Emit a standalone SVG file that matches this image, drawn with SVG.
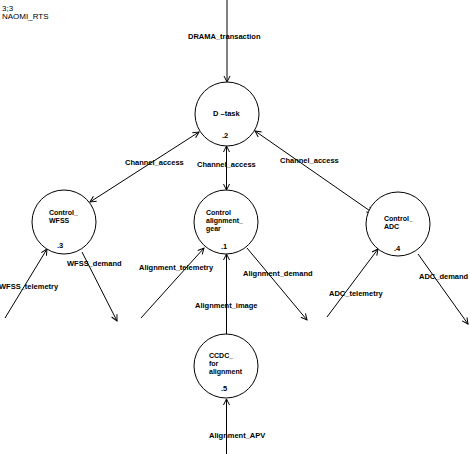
<svg xmlns="http://www.w3.org/2000/svg" width="470" height="454" viewBox="0 0 470 454">
<style>
  .bg{fill:#ffffff}
  .node circle{fill:#ffffff;stroke:#000;stroke-width:1}
  .t{font-family:"Liberation Sans",Arial,sans-serif;font-size:7.5px;font-weight:bold;fill:#000}
  .n{font-family:"Liberation Sans",Arial,sans-serif;font-size:7px;font-weight:bold;fill:#000}
  .h{font-family:"Liberation Sans",Arial,sans-serif;font-size:8px;fill:#000}
  #connectors line{stroke:#000;stroke-width:1;fill:none}
  .a{marker-end:url(#arr)}
  .b{marker-end:url(#arr);marker-start:url(#arr)}
</style>
<defs>
  <marker id="arr" markerUnits="userSpaceOnUse" markerWidth="8" markerHeight="8" refX="6" refY="3" orient="auto-start-reverse" viewBox="-1 -1 8 8">
    <path d="M0,0 L6,3 L0,6" fill="none" stroke="#000" stroke-width="1"/>
  </marker>
</defs>
<rect class="bg" x="0" y="0" width="470" height="454"/>
<text class="h" x="2" y="11">3;3</text>
<text class="h" x="2" y="19">NAOMI_RTS</text>

<g id="connectors">
  <line class="a" x1="227" y1="0" x2="227" y2="82"/>
  <text class="t" x="188" y="39">DRAMA_transaction</text>
  <line class="b" x1="199" y1="132" x2="90" y2="202"/>
  <text class="t" x="125" y="165">Channel_access</text>
  <line class="b" x1="226.5" y1="146" x2="226.5" y2="190"/>
  <text class="t" x="197" y="167">Channel_access</text>
  <line class="b" x1="255" y1="131" x2="373" y2="213"/>
  <text class="t" x="280" y="163">Channel_access</text>
  <line class="a" x1="5" y1="318" x2="47" y2="249"/>
  <text class="t" x="-1" y="289">WFSS_telemetry</text>
  <line class="a" x1="82" y1="252" x2="117" y2="321"/>
  <text class="t" x="67" y="266">WFSS_demand</text>
  <line class="a" x1="141" y1="318" x2="204" y2="248"/>
  <text class="t" x="139" y="270">Alignment_telemetry</text>
  <line class="a" x1="226.5" y1="334" x2="226.5" y2="254"/>
  <text class="t" x="195" y="308">Alignment_image</text>
  <line class="a" x1="247" y1="248" x2="307" y2="320"/>
  <text class="t" x="243" y="276">Alignment_demand</text>
  <line class="a" x1="327" y1="317" x2="378" y2="249"/>
  <text class="t" x="329" y="296">ADC_telemetry</text>
  <line class="a" x1="418" y1="254" x2="468" y2="324"/>
  <text class="t" x="419" y="279">ADC_demand</text>
  <line class="a" x1="226.5" y1="454" x2="226.5" y2="399"/>
  <text class="t" x="209" y="438">Alignment_APV</text>
</g>

<g id="node-dtask" class="node">
  <circle cx="227" cy="114" r="32"/>
  <text class="t" x="213" y="116">D –task</text>
  <text class="t" x="222" y="138">.2</text>
</g>
<g id="node-wfss" class="node">
  <circle cx="64" cy="222" r="32"/>
  <text class="n" x="49" y="215">Control_</text>
  <text class="n" x="49" y="223">WFSS</text>
  <text class="t" x="57" y="248">.3</text>
</g>
<g id="node-alignment" class="node">
  <circle cx="226" cy="222" r="32"/>
  <text class="n" x="206" y="215">Control</text>
  <text class="n" x="206" y="223">alignment_</text>
  <text class="n" x="206" y="231">gear</text>
  <text class="t" x="221" y="249">.1</text>
</g>
<g id="node-adc" class="node">
  <circle cx="398" cy="224" r="32"/>
  <text class="n" x="384" y="221">Control_</text>
  <text class="n" x="384" y="229">ADC</text>
  <text class="t" x="394" y="251">.4</text>
</g>
<g id="node-ccdc" class="node">
  <circle cx="226" cy="366" r="32"/>
  <text class="n" x="209" y="358">CCDC_</text>
  <text class="n" x="209" y="366">for</text>
  <text class="n" x="209" y="374">alignment</text>
  <text class="t" x="221" y="391">.5</text>
</g>
</svg>
